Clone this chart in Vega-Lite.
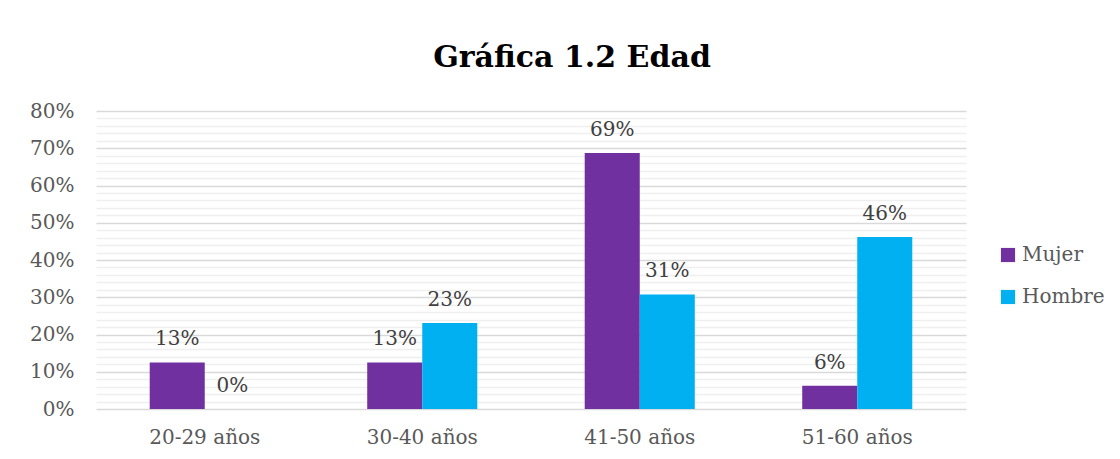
{
  "$schema": "https://vega.github.io/schema/vega-lite/v6.json",
  "width": 870,
  "height": 298,
  "autosize": {"type": "none"},
  "padding": {"left": 96, "top": 111, "right": 154, "bottom": 50},
  "background": "white",
  "title": {
    "text": "Gráfica 1.2 Edad",
    "font": "DejaVu Serif",
    "fontSize": 30,
    "fontWeight": "bold",
    "color": "#000000",
    "anchor": "middle",
    "dx": 41,
    "offset": 28
  },
  "data": {
    "values": [
      {"edad": "20-29 años", "sexo": "Mujer", "pct": 0.125},
      {"edad": "20-29 años", "sexo": "Hombre", "pct": 0.0},
      {"edad": "30-40 años", "sexo": "Mujer", "pct": 0.125},
      {"edad": "30-40 años", "sexo": "Hombre", "pct": 0.2308},
      {"edad": "41-50 años", "sexo": "Mujer", "pct": 0.6875},
      {"edad": "41-50 años", "sexo": "Hombre", "pct": 0.3077},
      {"edad": "51-60 años", "sexo": "Mujer", "pct": 0.0625},
      {"edad": "51-60 años", "sexo": "Hombre", "pct": 0.4615}
    ]
  },
  "encoding": {
    "x": {
      "field": "edad",
      "type": "nominal",
      "sort": null,
      "title": null,
      "scale": {"paddingInner": 0.494, "paddingOuter": 0.247},
      "axis": {
        "labelAngle": 0,
        "labelFont": "DejaVu Serif",
        "labelFontSize": 20,
        "labelColor": "#595959",
        "labelPadding": 18,
        "ticks": false,
        "domain": false,
        "grid": false
      }
    },
    "xOffset": {"field": "sexo", "type": "nominal", "sort": ["Mujer", "Hombre"]},
    "y": {
      "field": "pct",
      "type": "quantitative",
      "title": null,
      "scale": {"domain": [0, 0.8], "nice": false, "zero": true},
      "axis": {
        "values": [0, 0.02, 0.04, 0.06, 0.08, 0.1, 0.12, 0.14, 0.16, 0.18, 0.2, 0.22, 0.24, 0.26, 0.28, 0.3, 0.32, 0.34, 0.36, 0.38, 0.4, 0.42, 0.44, 0.46, 0.48, 0.5, 0.52, 0.54, 0.56, 0.58, 0.6, 0.62, 0.64, 0.66, 0.68, 0.7, 0.72, 0.74, 0.76, 0.78, 0.8],
        "format": ".0%",
        "labelExpr": "round(datum.value*100) % 10 == 0 ? datum.label : ''",
        "labelOverlap": false,
        "labelFont": "DejaVu Serif",
        "labelFontSize": 20,
        "labelColor": "#595959",
        "labelPadding": 22,
        "ticks": false,
        "domain": false,
        "grid": true,
        "gridColor": {"condition": {"test": "round(datum.value*100) % 10 == 0", "value": "#d9d9d9"}, "value": "#efefef"},
        "gridWidth": 1.6
      }
    },
    "color": {
      "field": "sexo",
      "type": "nominal",
      "sort": ["Mujer", "Hombre"],
      "scale": {"domain": ["Mujer", "Hombre"], "range": ["#7030A0", "#00B0F0"]},
      "legend": {
        "title": null,
        "orient": "none",
        "legendX": 902,
        "legendY": 134,
        "symbolType": "square",
        "symbolSize": 200,
        "symbolStrokeWidth": 0,
        "labelFont": "DejaVu Serif",
        "labelFontSize": 20,
        "labelColor": "#595959",
        "labelOffset": 4,
        "rowPadding": 22
      }
    }
  },
  "layer": [
    {"mark": {"type": "bar"}},
    {
      "mark": {"type": "text", "baseline": "bottom", "dy": -13, "font": "DejaVu Serif", "fontSize": 20, "color": "#404040"},
      "encoding": {
        "text": {"field": "pct", "type": "quantitative", "format": ".0%"},
        "color": {"value": "#404040"}
      }
    }
  ],
  "config": {"view": {"stroke": null}}
}
